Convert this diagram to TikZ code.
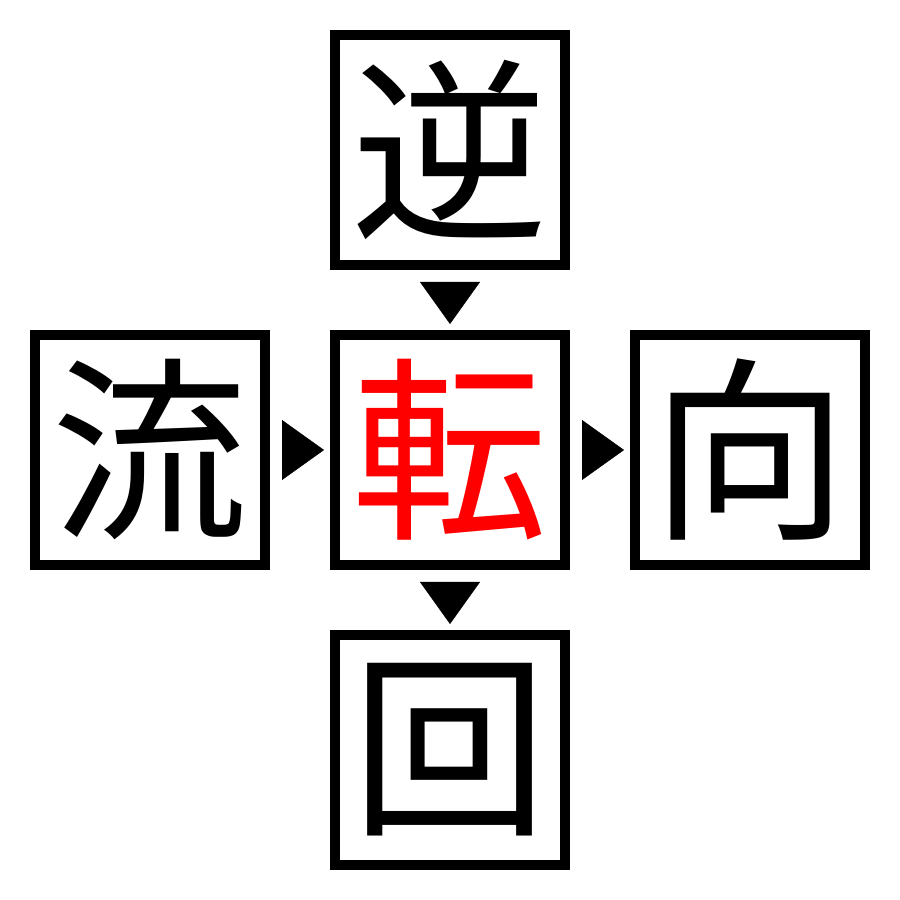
\documentclass[tikz,border=0pt]{standalone}
\usepackage{fontspec}
\newfontfamily\cjk{Noto Sans CJK JP}
\usetikzlibrary{positioning,arrows.meta}

\begin{document}
\begin{tikzpicture}[
                kanji/.style={rectangle,draw=black,line width=1mm,minimum size=23mm,inner sep=0pt,
                              font=\cjk\fontsize{56}{60}\selectfont},
                pointer/.style={-{Triangle[length=4.2mm,width=6mm]},line width=0.1pt,
                                shorten <=1.2mm,shorten >=0.6mm}
            ]
                \useasboundingbox (0,0) rectangle (9,9);
                \node[kanji,text=red] (ten) at (4.5,4.5) {転};
                \node[kanji,above=6mm of ten] (gyaku) {逆};
                \node[kanji,left=6mm of ten] (ryu) {流};
                \node[kanji,right=6mm of ten] (kou) {向};
                \node[kanji,below=6mm of ten] (kai) {回};
% pointers into and out of the middle box
                \draw[pointer] (gyaku) -- (ten);
                \draw[pointer] (ryu) -- (ten);
                \draw[pointer] (ten) -- (kou);
                \draw[pointer] (ten) -- (kai);

            \end{tikzpicture}
\end{document}
